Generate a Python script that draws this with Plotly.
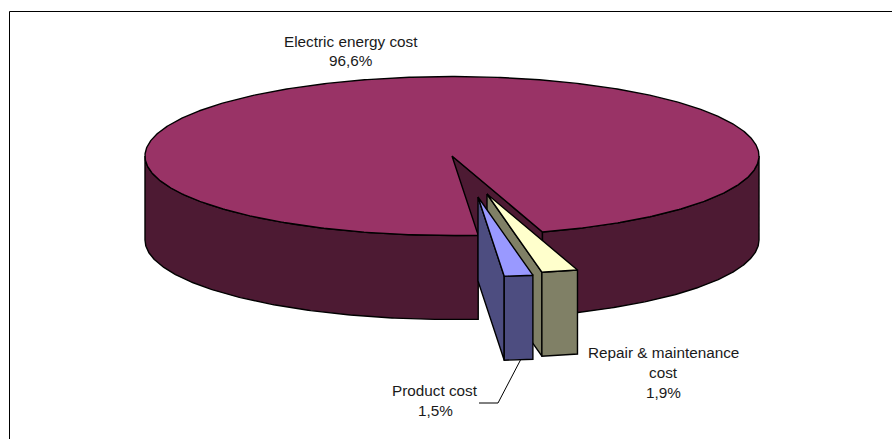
import numpy as np
import plotly.graph_objects as go

# Cost shares, percent
categories = ["Electric energy cost", "Product cost", "Repair & maintenance cost"]
shares = [96.6, 1.5, 1.9]
share_labels = ["96,6%", "1,5%", "1,9%"]

# Projected pie geometry on a pixel-sized plot area
CX, CY, RX, RY, DEPTH = 452.0, 156.0, 307.0, 79.5, 84.0
START_DEG = 4.9  # clockwise from the front of the pie, where the small slices begin
OFFSETS = {"Product cost": (26.0, 41.0), "Repair & maintenance cost": (35.0, 38.0)}

TOP = {"Electric energy cost": "#993366", "Product cost": "#9999FF", "Repair & maintenance cost": "#FFFFCC"}
SIDE = {"Electric energy cost": "#4D1A33", "Product cost": "#4D4D80", "Repair & maintenance cost": "#808066"}
EDGE = dict(color="#000000", width=1.4)


def rim(a_deg, b_deg, cx=CX, cy=CY, drop=0.0):
    """Rim points between two angles measured from the front, positive towards the right."""
    n = max(2, int(abs(b_deg - a_deg) * 2))
    t = np.radians(np.linspace(a_deg, b_deg, n))
    return cx + RX * np.sin(t), cy + RY * np.cos(t) + drop


def poly(fig, x, y, color):
    fig.add_trace(go.Scatter(x=np.r_[x, x[0]], y=np.r_[y, y[0]], mode="lines", fill="toself",
                             fillcolor=color, line=EDGE, hoverinfo="skip"))


def wall(fig, a, b, cx, cy, color):
    x, y = rim(a, b, cx, cy)
    xb, yb = rim(b, a, cx, cy, DEPTH)
    poly(fig, np.r_[x, xb], np.r_[y, yb], color)


def cut_face(fig, angle, cx, cy, color):
    x, y = rim(angle, angle, cx, cy)
    px = [cx, x[0], x[0], cx]
    py = [cy, y[0], y[0] + DEPTH, cy + DEPTH]
    poly(fig, np.array(px), np.array(py), color)


def top_face(fig, a, b, cx, cy, color):
    x, y = rim(a, b, cx, cy)
    poly(fig, np.r_[cx, x], np.r_[cy, y], color)


# Slice angles follow from the shares
sweeps = [s / sum(shares) * 360.0 for s in shares]
prod_a, prod_b = START_DEG, START_DEG + sweeps[1]
rep_a, rep_b = prod_b, prod_b + sweeps[2]
main_a, main_b = rep_b, rep_b + sweeps[0]

fig = go.Figure()

# Main slice: inner cut face, outer walls on both sides of the gap, then its top
main = categories[0]
cut_face(fig, main_a, CX, CY, SIDE[main])
wall(fig, main_a, 90.0, CX, CY, SIDE[main])
wall(fig, -90.0, prod_a, CX, CY, SIDE[main])
top_face(fig, main_a, main_b, CX, CY, TOP[main])

# Pulled-out slices, the one further right goes first
for name, a, b in [(categories[2], rep_a, rep_b), (categories[1], prod_a, prod_b)]:
    ox, oy = OFFSETS[name]
    cx, cy = CX + ox, CY + oy
    cut_face(fig, a, cx, cy, SIDE[name])
    wall(fig, a, b, cx, cy, SIDE[name])
    top_face(fig, a, b, cx, cy, TOP[name])

# Leader line for the product slice
fig.add_trace(go.Scatter(x=[521, 498, 479], y=[359, 403, 403], mode="lines",
                         line=dict(color="#000000", width=1), hoverinfo="skip"))

# Slice labels, one annotation per text line for the wider line pitch
label_lines = [
    (350.5, [41, 60], ["Electric energy cost", share_labels[0]]),
    (435, [390, 410], ["Product cost", share_labels[1]]),
    (663, [352, 372, 392], ["Repair & maintenance", "cost", share_labels[2]]),
]
for x, ys, texts in label_lines:
    for y, t in zip(ys, texts):
        fig.add_annotation(x=x, y=y, text=t, showarrow=False, xanchor="center", yanchor="middle",
                           font=dict(family="Liberation Sans, Arial", size=15.3, color="#1a1a1a"))

# Chart frame: only the top and left rules fall inside the page
fig.add_shape(type="line", x0=9.5, x1=892, y0=11.5, y1=11.5, line=dict(color="#000000", width=1))
fig.add_shape(type="line", x0=9.5, x1=9.5, y0=11.5, y1=439, line=dict(color="#000000", width=1))

fig.update_layout(
    width=892, height=439, margin=dict(l=0, r=0, t=0, b=0),
    paper_bgcolor="#FFFFFF", plot_bgcolor="#FFFFFF", showlegend=False,
    xaxis=dict(range=[0, 892], visible=False, fixedrange=True),
    yaxis=dict(range=[439, 0], visible=False, fixedrange=True),
)
fig.write_html("out.html", config={"displayModeBar": False})
